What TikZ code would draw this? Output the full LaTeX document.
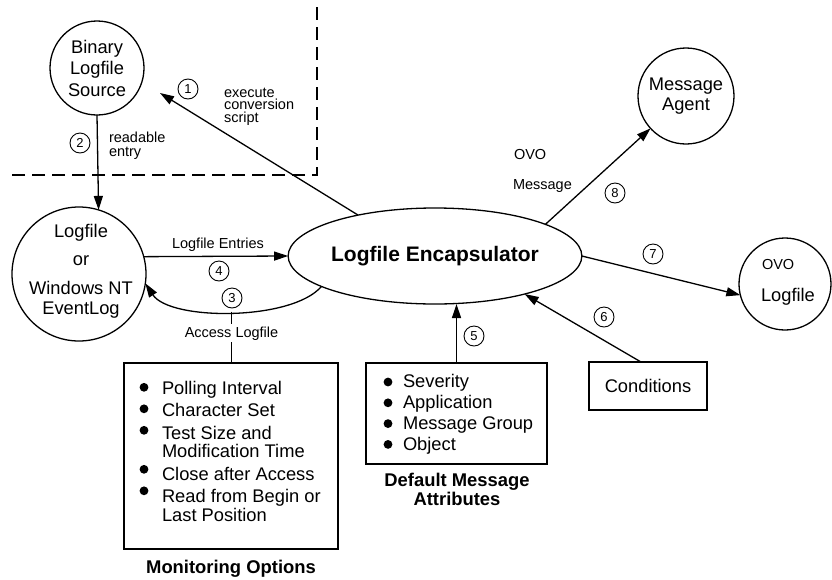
\documentclass[tikz,border=0pt]{standalone}
\usepackage{fontspec}
\setmainfont{Liberation Sans}
\usetikzlibrary{arrows.meta,shapes.geometric,calc}
\newcommand{\fmain}{\fontsize{18.3}{21.5}\selectfont}
\newcommand{\fsmall}{\fontsize{14.5}{12.5}\selectfont}
\newcommand{\fnum}{\fontsize{13}{13}\selectfont}
\newcommand{\fbig}{\fontsize{21}{24}\selectfont\bfseries}
\newcommand{\fcap}{\fontsize{18.4}{19}\selectfont\bfseries}
\begin{document}
\begin{tikzpicture}[x=1pt,y=-1pt,
  every node/.style={inner sep=0pt, outer sep=0pt},
  proc/.style={draw, circle, line width=1.3pt, font=\fmain, align=center},
  numc/.style={draw, circle, line width=0.9pt, minimum size=20pt, font=\fnum},
  arr/.style={line width=1.3pt, -{Triangle[length=14pt,width=9pt]}},
  lbl/.style={font=\fsmall, align=left},
  boxn/.style={draw, line width=1.3pt, rectangle, anchor=north west},
  capt/.style={font=\fcap, align=center},
  bull/.style={fill=black},
  bound/.style={line width=1.3pt, dash pattern=on 13pt off 7pt}]

\useasboundingbox (0,0) rectangle (832,579);

% boundary
\draw[bound] (317,7) -- (317,175) -- (12,175);

% main nodes
\node[proc, minimum size=94pt] (bin) at (97,68) {Binary\\Logfile\\Source};
\node[proc, minimum size=134pt] (lf) at (79,274) {};
\node[font=\fontsize{18.3}{20}\selectfont, align=center] (lft) at (81,271)
  {Logfile\\[8pt]or\\[9pt]Windows NT\\EventLog};
\node[proc, minimum size=96pt, font=\fontsize{18.3}{20}\selectfont] (ma) at (686,96) {Message\\Agent};
\node[proc, minimum size=92pt] (ol) at (785,284) {};
\node[font=\fsmall, anchor=west] (olovo) at (762,265) {OVO};
\node[font=\fmain, anchor=west] (oltxt) at (761,297) {Logfile};
\node[draw, ellipse, line width=1.3pt, minimum width=256pt, minimum height=96pt, font=\fbig] (enc) at (435,256) {Logfile Encapsulator};

% boxes
\node[boxn, minimum width=214pt, minimum height=186pt] (mon) at (124,363) {};
\node[anchor=north west, font=\fontsize{18.3}{17.5}\selectfont] (monl) at (162,381)
  {\begin{tabular}{@{}l@{}}Polling Interval\\[4pt]Character Set\\[4pt]Test Size and\\Modification Time\\[4pt]Close after Access\\[4pt]Read from Begin or\\Last Position\end{tabular}};
\foreach \yy in {387.3,408.8,430.3,469.3,490.8} \fill[bull] (144,\yy) circle (4.4pt);
\node[capt] (monc) at (231,569) {Monitoring Options};

\node[boxn, minimum width=181pt, minimum height=101pt] (dm) at (366,363) {};
\node[anchor=north west, font=\fontsize{18.3}{20.8}\selectfont] (dml) at (403,373.4)
  {\begin{tabular}{@{}l@{}}Severity\\Application\\Message Group\\Object\end{tabular}};
\foreach \yy in {382,402.8,423.6,444.4} \fill[bull] (388,\yy) circle (4.4pt);
\node[capt] (dmc) at (457,489.5) {Default Message\\Attributes};

\node[boxn, minimum width=118pt, minimum height=48pt, font=\fmain] (cond) at (589,362) {Conditions};

% connectors
\coordinate (c1) at (160,93);
\draw[arr] (enc.152) -- (c1);
\draw[arr] (bin.south) -- (lf.73);
\draw[arr] (lf.15) -- (enc.west);
\draw[arr] (enc.195) .. controls (292,321) and (170,321) .. (lf.-8);
\coordinate (accp) at (231.5,311.7);
\draw[line width=1.3pt] (accp) -- node[pos=0.42, fill=white, inner sep=2pt, font=\fsmall] (acct) {Access Logfile} (accp |- mon.north);
\draw[arr] (dm.north) -- (dm.north |- enc.south);
\draw[arr] ([xshift=-7pt]cond.north) -- (enc.-23);
\draw[arr] (enc.16) -- (ma);
\draw[arr] (enc.east) -- (ol.194);

% labels
\node[lbl, anchor=west] (l1) at (224,106.5) {execute\\conversion\\script};
\node[lbl, anchor=west, font=\fontsize{14.5}{14}\selectfont] (l2) at (109,146) {readable\\entry};
\node[font=\fsmall] (l4) at (218,245) {Logfile Entries};
\node[font=\fsmall, anchor=west] (l8a) at (514,155) {OVO};
\node[font=\fsmall, anchor=west] (l8b) at (513,186) {Message};

% numbers
\node[numc] (n1) at (188,89) {1};
\node[numc] (n2) at (80,143) {2};
\node[numc] (n3) at (232,298) {3};
\node[numc] (n4) at (219,271) {4};
\node[numc] (n5) at (474,336) {5};
\node[numc] (n6) at (604,317) {6};
\node[numc] (n7) at (653,254) {7};
\node[numc] (n8) at (615,193) {8};
\end{tikzpicture}
\end{document}
